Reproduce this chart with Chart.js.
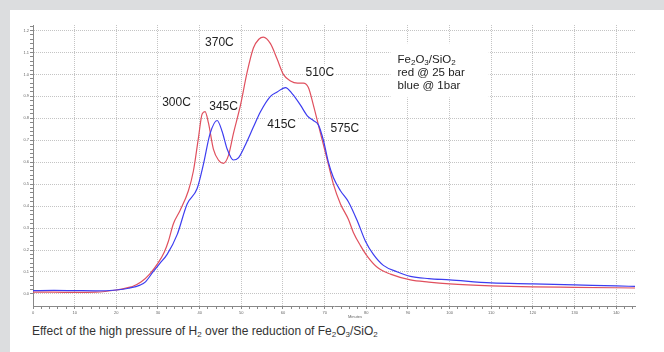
<!DOCTYPE html>
<html>
<head>
<meta charset="utf-8">
<script src="https://cdn.jsdelivr.net/npm/chart.js@4.4.0/dist/chart.umd.min.js"></script>
<style>
  html, body { margin: 0; padding: 0; }
  body { width: 664px; height: 352px; background: #dcdddf; position: relative; overflow: hidden;
         font-family: "Liberation Sans", Arial, sans-serif; }
  #panel { position: absolute; left: 10px; top: 10px; width: 654px; height: 342px; background: #fff; }
  #wrap { position: absolute; left: 0; top: 0; width: 654px; height: 310px; }
  #caption { position: absolute; left: 22px; top: 314px; font-size: 12px; line-height: 14px; color: #333; white-space: nowrap; }
  #caption sub { font-size: 8px; vertical-align: -2px; line-height: 0; }
</style>
</head>
<body>
<div id="panel">
  <div id="wrap"><canvas id="chart"></canvas></div>
  <div id="caption">Effect of the high pressure of H<sub>2</sub> over the reduction of Fe<sub>2</sub>O<sub>3</sub>/SiO<sub>2</sub></div>
</div>
<script>
// ---- data (minutes vs detector signal) ----
const RED_TIME = [0, 5, 10, 15, 20, 23, 24, 26, 28, 30, 31.5, 32.5, 33.7, 35.3, 37.3, 38.5, 39.7, 40.6, 41.3,
  42.1, 43.3, 44.5, 45.7, 46.9, 48.1, 49.8, 51.4, 52.9, 54.2, 55.3, 57, 58.6, 60.1, 61.8, 63.5, 64.9, 66.1,
  67.3, 68.5, 69.7, 70.9, 72.1, 73.8, 75.7, 76.9, 78.6, 80.3, 82.7, 85.8, 90.6, 95, 100, 110, 120, 130, 144.5];
const RED_SIGNAL = [0.008, 0.008, 0.007, 0.008, 0.018, 0.03, 0.035, 0.055, 0.09, 0.14, 0.19, 0.24, 0.32, 0.38, 0.47,
  0.56, 0.71, 0.82, 0.83, 0.78, 0.66, 0.61, 0.595, 0.63, 0.73, 0.86, 1.01, 1.12, 1.16, 1.17, 1.14, 1.07, 1.0, 0.97,
  0.96, 0.96, 0.94, 0.86, 0.77, 0.68, 0.59, 0.50, 0.41, 0.34, 0.28, 0.22, 0.17, 0.12, 0.09, 0.064, 0.054, 0.046,
  0.037, 0.032, 0.030, 0.027];

const BLUE_TIME = [0, 5, 10, 15, 20, 23, 25.7, 27, 28.8, 30.5, 32.2, 34.6, 37, 39.4, 40.9, 42.5, 44.2, 45.4, 46.6,
  48.1, 49.3, 51, 52.9, 54.6, 57, 58.6, 60.6, 62.3, 64.2, 65.9, 67.3, 68.5, 69.7, 70.9, 72.1, 73.8, 75.7, 77.9,
  79.8, 81.7, 84.1, 87.5, 90.6, 95, 100, 110, 120, 130, 140, 144.5];
const BLUE_SIGNAL = [0.015, 0.016, 0.015, 0.014, 0.018, 0.026, 0.04, 0.055, 0.10, 0.14, 0.18, 0.27, 0.41, 0.48, 0.59,
  0.73, 0.79, 0.74, 0.66, 0.61, 0.62, 0.68, 0.76, 0.83, 0.90, 0.92, 0.94, 0.91, 0.86, 0.81, 0.79, 0.77, 0.70, 0.60,
  0.53, 0.47, 0.42, 0.33, 0.24, 0.18, 0.13, 0.10, 0.08, 0.07, 0.064, 0.05, 0.046, 0.041, 0.037, 0.034];

const X_TICK_LABELS = ["0", "10", "20", "30", "40", "50", "60", "70", "80", "90", "100", "110", "120", "130", "140"];
const Y_TICK_LABELS = ["0.0", "0.1", "0.2", "0.3", "0.4", "0.5", "0.6", "0.7", "0.8", "0.9", "1.0", "1.1", "1.2"];

// peak labels: [text, minutes (left edge), signal (centre)]
const PEAK_LABELS = [
  ["370C", 41.3, 1.146],
  ["300C", 31.0, 0.872],
  ["345C", 42.3, 0.854],
  ["510C", 65.4, 1.009],
  ["415C", 56.25, 0.772],
  ["575C", 71.4, 0.753]
];
const LEGEND_LINES = [
  [["Fe", 0], ["2", 1], ["O", 0], ["3", 1], ["/Si", 0], ["O", 0], ["2", 1]],
  [["red @ 25 bar", 0]],
  [["blue @ 1bar", 0]]
];
// ------------------------------------------------------------

const FONT = '"Liberation Sans", Arial, sans-serif';
const RED = "#e0505e";
const BLUE = "#3d3df0";

function isMajor(v, step) {
  const r = v / step;
  return Math.abs(r - Math.round(r)) < 1e-6;
}

function drawRich(ctx, parts, x, y, size) {
  let cx = x;
  for (const [t, sub] of parts) {
    ctx.font = (sub ? size * 0.7 : size) + "px " + FONT;
    ctx.fillText(t, cx, sub ? y + size * 0.25 : y);
    cx += ctx.measureText(t).width;
  }
}

const annotations = {
  id: "annotations",
  beforeDatasetsDraw(chart) {
    const { ctx, scales: { x, y } } = chart;
    ctx.save();
    ctx.textBaseline = "middle";
    ctx.textAlign = "left";

    // legend text box (hides the grid)
    const bx0 = x.getPixelForValue(85.8), bx1 = x.getPixelForValue(109.4);
    const by0 = y.getPixelForValue(1.142), by1 = y.getPixelForValue(0.895);
    ctx.fillStyle = "#fff";
    ctx.fillRect(bx0, by0, bx1 - bx0, by1 - by0);
    ctx.fillStyle = "#222";
    const legY = [1.068, 1.009, 0.950];
    LEGEND_LINES.forEach((parts, i) => {
      drawRich(ctx, parts, x.getPixelForValue(87.5), y.getPixelForValue(legY[i]), 11.5);
    });

    ctx.font = "12px " + FONT;
    for (const [t, mx, my] of PEAK_LABELS) {
      const px = x.getPixelForValue(mx), py = y.getPixelForValue(my);
      const w = ctx.measureText(t).width;
      ctx.fillStyle = "#fff";
      ctx.fillRect(px - 1, py - 7, w + 2, 14);
      ctx.fillStyle = "#222";
      ctx.fillText(t, px, py);
    }
    ctx.restore();
  },
  afterDraw(chart) {
    const { ctx, scales: { x } } = chart;
    ctx.save();
    ctx.font = "4px " + FONT;
    ctx.fillStyle = "#666";
    ctx.textAlign = "center";
    ctx.textBaseline = "middle";
    ctx.fillText("Minutes", x.getPixelForValue(77.3), x.bottom - 3);
    ctx.restore();
  }
};

function toPoints(ts, vs) {
  return ts.map((t, i) => ({ x: t, y: vs[i] }));
}

new Chart(document.getElementById("chart"), {
  type: "line",
  data: {
    datasets: [
      { label: "1 bar", data: toPoints(BLUE_TIME, BLUE_SIGNAL), borderColor: BLUE, borderWidth: 1.2,
        pointRadius: 0, cubicInterpolationMode: "monotone" },
      { label: "25 bar", data: toPoints(RED_TIME, RED_SIGNAL), borderColor: RED, borderWidth: 1.2,
        pointRadius: 0, cubicInterpolationMode: "monotone" }
    ]
  },
  options: {
    responsive: true,
    maintainAspectRatio: false,
    animation: false,
    layout: { padding: { left: 0, right: 29, top: 15, bottom: 0 } },
    plugins: { legend: { display: false }, tooltip: { enabled: false } },
    scales: {
      x: {
        type: "linear",
        min: 0,
        max: 144.5,
        afterBuildTicks: (scale) => {
          const t = [];
          for (let v = 0; v <= 144; v += 2) t.push({ value: v });
          scale.ticks = t;
        },
        afterFit: (scale) => { scale.height = 14; },
        ticks: {
          autoSkip: false,
          maxRotation: 0,
          padding: 1,
          color: "#666",
          font: { size: 4, family: FONT },
          callback: (v) => isMajor(v, 10) ? X_TICK_LABELS[Math.round(v / 10)] : ""
        },
        grid: {
          color: (c) => (c.tick && isMajor(c.tick.value, 10) && c.tick.value > 0) ? "#c4c4c4" : "rgba(0,0,0,0)",
          tickColor: "#888",
          tickLength: 3,
          lineWidth: 1
        },
        border: { display: true, color: "#888", width: 1, dash: [1, 1] }
      },
      y: {
        type: "linear",
        min: -0.055,
        max: 1.225,
        afterBuildTicks: (scale) => {
          const t = [];
          for (let i = 0; i <= 61; i++) t.push({ value: i * 0.02 });
          scale.ticks = t;
        },
        afterFit: (scale) => { scale.width = 23; },
        ticks: {
          autoSkip: false,
          padding: 1,
          color: "#666",
          font: { size: 4, family: FONT },
          callback: (v) => isMajor(v, 0.1) ? Y_TICK_LABELS[Math.round(v / 0.1)] : ""
        },
        grid: {
          color: (c) => (c.tick && isMajor(c.tick.value, 0.1)) ? "#c4c4c4" : "rgba(0,0,0,0)",
          tickColor: "#888",
          tickLength: 3,
          lineWidth: 1
        },
        border: { display: true, color: "#888", width: 1, dash: [1, 1] }
      }
    }
  },
  plugins: [annotations]
});
</script>
</body>
</html>
